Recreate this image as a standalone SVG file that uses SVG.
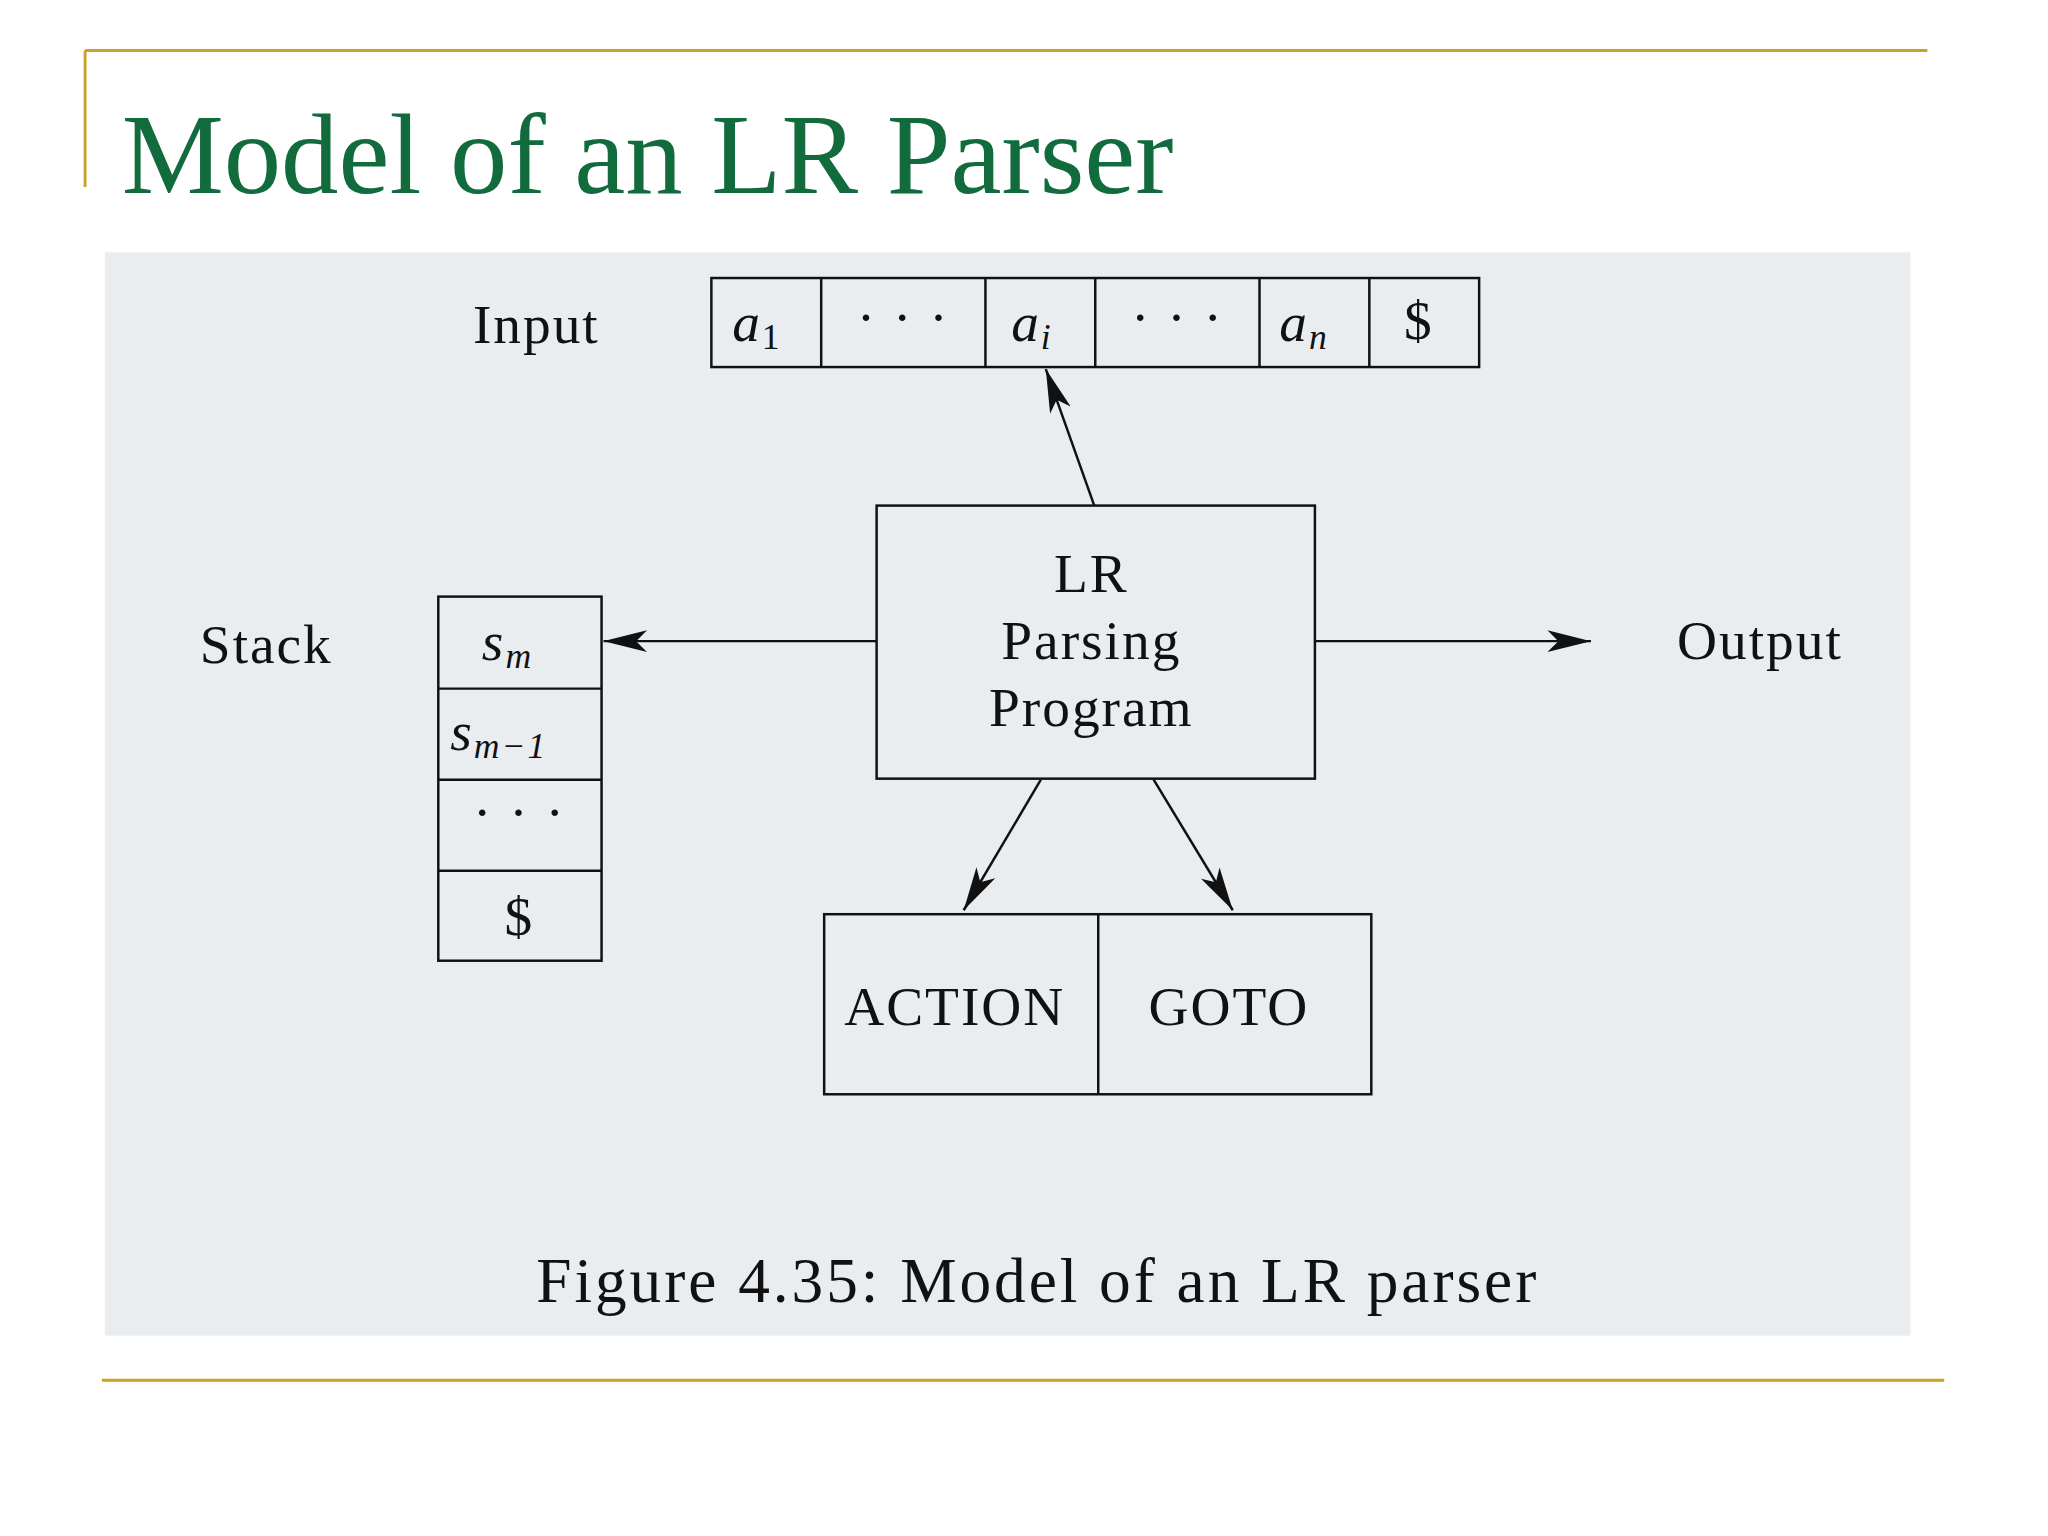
<svg xmlns="http://www.w3.org/2000/svg" width="2048" height="1536" viewBox="0 0 2048 1536">
<defs>
<marker id="ah" viewBox="0 0 20 10" refX="20" refY="5" markerWidth="44" markerHeight="22" markerUnits="userSpaceOnUse" orient="auto"><path d="M0,0 L20,5 L0,10 L5,5 z" fill="#111"/></marker>
<style>
.b{fill:none;stroke:#111;stroke-width:2.5}
.t{font-family:"Liberation Serif",serif;fill:#111;font-size:56px;letter-spacing:2px}
.c{stroke:#111;stroke-width:2.5;fill:none;marker-end:url(#ah)}
.g{stroke:#c9a227;stroke-width:3}
</style>
</defs>
<rect width="2048" height="1536" fill="#fff"/>
<g transform="scale(0.9894)">
<line class="g" x1="86" y1="51" x2="1948" y2="51"/>
<line class="g" x1="86" y1="51" x2="86" y2="189"/>
<line class="g" x1="103" y1="1395" x2="1965" y2="1395"/>
<text x="123" y="195" font-family="Liberation Serif,serif" font-size="116" fill="#116b3c">Model of an LR Parser</text>
<rect x="106" y="255" width="1825" height="1095" fill="#e9edef"/>
<g id="input">
<rect class="b" x="719" y="281" width="776" height="90"/>
<path class="b" d="M830,281V371M996,281V371M1107,281V371M1273,281V371M1384,281V371"/>
<text class="t" x="478" y="347">Input</text>
<text class="t" x="740" y="345" font-style="italic">a<tspan font-size="36" font-style="normal" dy="8">1</tspan></text>
<text class="t" x="913" y="340" text-anchor="middle">· · ·</text>
<text class="t" x="1022" y="345" font-style="italic">a<tspan font-size="36" dy="8">i</tspan></text>
<text class="t" x="1190" y="340" text-anchor="middle">· · ·</text>
<text class="t" x="1293" y="345" font-style="italic">a<tspan font-size="36" dy="8">n</tspan></text>
<text class="t" x="1434" y="343" text-anchor="middle">$</text>
</g>
<g id="lr">
<rect class="b" x="886" y="511" width="443" height="276"/>
<text class="t" x="1103" y="598" text-anchor="middle">LR</text>
<text class="t" x="1103" y="666" text-anchor="middle">Parsing</text>
<text class="t" x="1103" y="734" text-anchor="middle">Program</text>
</g>
<g id="stack">
<rect class="b" x="443" y="603" width="165" height="368"/>
<path class="b" d="M443,696H608M443,788H608M443,880H608"/>
<text class="t" x="202" y="670">Stack</text>
<text class="t" x="487" y="667" font-style="italic">s<tspan font-size="36" dy="8">m</tspan></text>
<text class="t" x="455" y="758" font-style="italic">s<tspan font-size="36" dy="8">m−1</tspan></text>
<text class="t" x="525" y="840" text-anchor="middle">· · ·</text>
<text class="t" x="525" y="945" text-anchor="middle">$</text>
</g>
<g id="table">
<rect class="b" x="833" y="924" width="553" height="182"/>
<path class="b" d="M1110,924V1106"/>
<text class="t" x="965" y="1036" text-anchor="middle">ACTION</text>
<text class="t" x="1242" y="1036" text-anchor="middle">GOTO</text>
</g>
<text class="t" x="542" y="1316" style="font-size:64px;letter-spacing:3px">Figure 4.35: Model of an LR parser</text>
<text class="t" x="1695" y="666">Output</text>
<g id="connectors">
<line class="c" x1="886" y1="648" x2="610" y2="648"/>
<line class="c" x1="1329" y1="648" x2="1608" y2="648"/>
<line class="c" x1="1106" y1="511" x2="1057" y2="373"/>
<line class="c" x1="1052" y1="788" x2="974" y2="920"/>
<line class="c" x1="1166" y1="788" x2="1246" y2="920"/>
</g>
</g>
</svg>
